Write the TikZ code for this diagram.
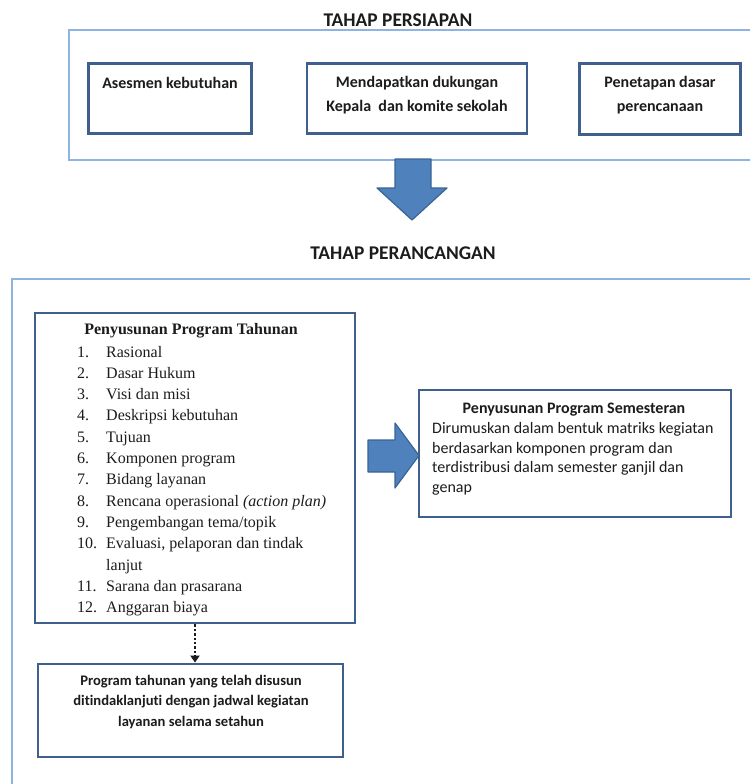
\documentclass[tikz,border=0pt]{standalone}
\usepackage{fontspec}
\setmainfont{Liberation Serif}
\newfontfamily\carlito[Ligatures=NoCommon]{Carlito}
\usetikzlibrary{arrows.meta}
\definecolor{phaseblue}{HTML}{8EB4E3}
\definecolor{boxblue}{HTML}{3F5F8C}
\definecolor{arrowfill}{HTML}{4F81BD}
\definecolor{arrowline}{HTML}{3A6494}
\definecolor{ink}{HTML}{1C1C1C}
\tikzset{
  phase/.style={draw=phaseblue, line width=2},
  kotak/.style={draw=boxblue, line width=2.8, fill=white},
  judul/.style={text=ink, font=\carlito\bfseries\fontsize{19.4}{22}\selectfont},
  isi/.style={text=ink, align=center, font=\carlito\bfseries\fontsize{16}{24}\selectfont},
  isikecil/.style={text=ink, align=center, font=\carlito\bfseries\fontsize{14.6}{20.5}\selectfont},
  semester/.style={text=ink, align=left, font=\carlito\fontsize{16}{19.8}\selectfont},
  butir/.style={text=ink, anchor=base west, inner sep=0, font=\fontsize{16}{19}\selectfont},
  panah/.style={fill=arrowfill, draw=arrowline, line width=1.2, line join=round}
}
\begin{document}
\begin{tikzpicture}[x=1pt,y=-1pt]
                \useasboundingbox (0,0) rectangle (750,784);
                \clip (0,0) rectangle (750,784);
                %NODE
                \node[judul] (judul1) at (398,20) {TAHAP PERSIAPAN};
                \node[phase, minimum width=731, minimum height=130] (persiapan) at (434.5,95) {};
                \node[kotak, minimum width=163, minimum height=70] (asesmen) at (170,98.5) {};
                \node[kotak, minimum width=220, minimum height=70] (dukungan) at (417,98.5) {};
                \node[kotak, minimum width=161, minimum height=71] (dasar) at (660,99) {};
                \node[isi] (asesmenT) at (170,83) {Asesmen kebutuhan};
                \node[isi] (dukunganT) at (417,95) {Mendapatkan dukungan\\Kepala\ \ dan komite sekolah};
                \node[isi] (dasarT) at (660,95) {Penetapan dasar\\perencanaan};

                \node[judul] (judul2) at (403,253) {TAHAP PERANCANGAN};
                \node[phase, minimum width=788, minimum height=551] (perancangan) at (406,554.5) {};
                \node[kotak, minimum width=320, minimum height=310] (tahunan) at (195,468) {};
                \node[text=ink, font=\bfseries\fontsize{16}{19}\selectfont] (tahunanT) at (191,331) {Penyusunan Program Tahunan};
                \foreach \n/\t [count=\i from 0] in {1./Rasional, 2./Dasar Hukum, 3./Visi dan misi,
                    4./Deskripsi kebutuhan, 5./Tujuan, 6./Komponen program, 7./Bidang layanan,
                    8./{Rencana operasional \textit{(action plan)}}, 9./{Pengembangan tema/topik},
                    10./{Evaluasi, pelaporan dan tindak}, /lanjut, 11./Sarana dan prasarana,
                    12./Anggaran biaya}{
                  \node[butir] (no\i) at (77,357+21.33*\i) {\n};
                  \node[butir] (item\i) at (106,357+21.33*\i) {\t};
                }
                \node[kotak, minimum width=312, minimum height=127] (semesteran) at (575,453.5) {};
                \node[isi] (semesteranT) at (574,410) {Penyusunan Program Semesteran};
                \node[semester, anchor=north west, inner sep=0] (semesteranB) at (432,422)
                  {Dirumuskan dalam bentuk matriks kegiatan\\berdasarkan komponen program dan\\terdistribusi dalam semester ganjil dan\\genap};
                \node[kotak, minimum width=305, minimum height=93] (lanjut) at (190.5,710.5) {};
                \node[isikecil] (lanjutT) at (191,702) {Program tahunan yang telah disusun\\ditindaklanjuti dengan jadwal kegiatan\\layanan selama setahun};

                %EDGE
                \draw[panah] (395,159) -- (431,159) -- (431,188) -- (447,188) -- (412,220)
                  -- (377,188) -- (395,188) -- cycle;
                \draw[panah] (368,440) -- (395,440) -- (395,423) -- (419,455.5) -- (395,488)
                  -- (395,472) -- (368,472) -- cycle;
                \draw[ink, line width=2.4, dotted, -{Triangle[width=9,length=7]}]
                  (tahunan.south) -- (tahunan.south |- lanjut.north);
            \end{tikzpicture}
\end{document}
